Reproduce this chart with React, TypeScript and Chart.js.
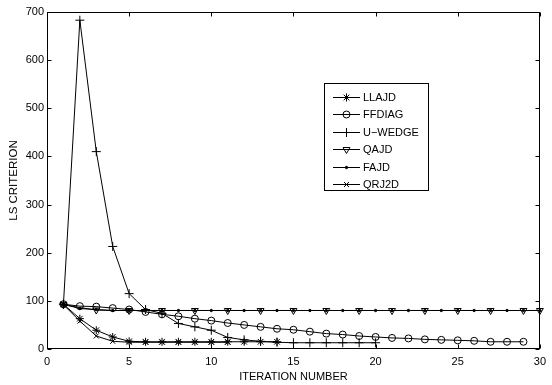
import React, { useEffect, useRef } from "react";
import { Chart, registerables } from "chart.js";
import { drawPoint } from "chart.js/helpers";

Chart.register(...registerables);

const seriesNames = ["LLAJD", "FFDIAG", "U\u2212WEDGE", "QAJD", "FAJD", "QRJ2D"];

const llajd = [93, 63, 39, 25, 16, 15, 15, 15, 15, 15, 15, 15, 15, 15];
const ffdiag = [93, 89, 88, 85, 82, 77, 72, 68, 63, 59, 54, 50, 46, 42, 40, 36, 32, 30, 27, 25, 23, 22, 20, 19, 18, 17, 15, 15, 15];
const uwedge = [93, 683, 410, 213, 115, 82, 74, 53, 46, 39, 24, 19, 16, 14, 13, 13, 13, 13, 13, 13];
const qajd = [92, 86, 81, 80, 80, 80, 80, 80, 80, 80, 80, 80, 80, 80, 80, 80, 80, 80, 80, 80, 80, 80, 80, 80, 80, 80, 80, 80, 80, 80];
const fajd = [93, 84, 82, 80, 80, 80, 80, 80, 80, 80, 80, 80, 80, 80, 80, 80, 80, 80, 80, 80, 80, 80, 80, 80, 80, 80, 80, 80, 80, 80];
const qrj2d = [92, 58, 27, 16, 14, 14, 14, 14, 14, 14, 14];

const xTicks = [0, 5, 10, 15, 20, 25, 30];
const yTicks = [0, 100, 200, 300, 400, 500, 600, 700];

const FONT = "'Liberation Sans', Arial, Helvetica, sans-serif";

const styles = [
  { pointStyle: "star", radius: 4, rotation: 0 },
  { pointStyle: "circle", radius: 3.5, rotation: 0 },
  { pointStyle: "cross", radius: 4.5, rotation: 0 },
  { pointStyle: "triangle", radius: 4, rotation: 180 },
  { pointStyle: "circle", radius: 1.2, rotation: 0, filled: true },
  { pointStyle: "crossRot", radius: 3.5, rotation: 0 },
];

const toPts = (arr: number[]) => arr.map((v, i) => ({ x: i + 1, y: v }));

const framePlugin = {
  id: "frame",
  afterDatasetsDraw(chart: any) {
    const { ctx, chartArea: a, scales } = chart;
    ctx.save();
    ctx.strokeStyle = "#000";
    ctx.lineWidth = 1;
    const L = Math.round(a.left) + 0.5;
    const R = Math.round(a.right) - 0.5;
    const T = Math.round(a.top) + 0.5;
    const B = Math.round(a.bottom) - 0.5;
    ctx.strokeRect(L, T, R - L, B - T);
    const tl = 4;
    ctx.beginPath();
    xTicks.forEach((t) => {
      const x = Math.round(scales.x.getPixelForValue(t)) + 0.5;
      ctx.moveTo(x, B);
      ctx.lineTo(x, B - tl);
      ctx.moveTo(x, T);
      ctx.lineTo(x, T + tl);
    });
    yTicks.forEach((t) => {
      const y = Math.round(scales.y.getPixelForValue(t)) + 0.5;
      ctx.moveTo(L, y);
      ctx.lineTo(L + tl, y);
      ctx.moveTo(R, y);
      ctx.lineTo(R - tl, y);
    });
    ctx.stroke();

    // legend
    const bx = 324.5, by = 83.5, bw = 104, bh = 107;
    ctx.fillStyle = "#fff";
    ctx.fillRect(bx, by, bw, bh);
    ctx.strokeRect(bx, by, bw, bh);
    ctx.font = "11px " + FONT;
    ctx.textBaseline = "middle";
    ctx.textAlign = "left";
    seriesNames.forEach((name, i) => {
      const y = Math.round(97 + i * 17.4) + 0.5;
      ctx.strokeStyle = "#000";
      ctx.beginPath();
      ctx.moveTo(333, y);
      ctx.lineTo(360, y);
      ctx.stroke();
      const s: any = styles[i];
      ctx.fillStyle = s.filled ? "#000" : "rgba(0,0,0,0)";
      drawPoint(ctx, { pointStyle: s.pointStyle, radius: s.radius, rotation: s.rotation, borderWidth: 1 } as any, 346.5, y);
      ctx.fillStyle = "#000";
      ctx.fillText(name, 363, y + 0.5);
    });
    ctx.restore();
  },
};

export default function App() {
  const ref = useRef<HTMLCanvasElement>(null);
  useEffect(() => {
    document.body.style.margin = "0";
    const data = [llajd, ffdiag, uwedge, qajd, fajd, qrj2d];
    const datasets = data.map((arr, i) => {
      const s: any = styles[i];
      let radius: any = s.radius;
      if (i === 3) {
        radius = arr.map((_, j) => ((j + 1) % 2 === 1 || j + 1 === 30 ? s.radius : 0));
      }
      return {
        label: seriesNames[i],
        data: toPts(arr),
        borderColor: "#000",
        backgroundColor: s.filled ? "#000" : "rgba(0,0,0,0)",
        borderWidth: 1,
        pointStyle: s.pointStyle,
        pointRadius: radius,
        pointRotation: s.rotation,
        pointBorderColor: "#000",
        pointBackgroundColor: s.filled ? "#000" : "rgba(0,0,0,0)",
        pointBorderWidth: 1,
        tension: 0,
        fill: false,
        clip: false as any,
      };
    });
    const chart = new Chart(ref.current!, {
      type: "line",
      data: { datasets },
      plugins: [framePlugin],
      options: {
        animation: false,
        responsive: false,
        devicePixelRatio: 1,
        layout: { padding: { top: 12, right: 6, left: 0, bottom: 0 } },
        plugins: { legend: { display: false }, tooltip: { enabled: false } },
        scales: {
          x: {
            type: "linear",
            min: 0,
            max: 30,
            afterBuildTicks: (sc: any) => {
              sc.ticks = xTicks.map((v) => ({ value: v }));
            },
            afterFit: (sc: any) => {
              sc.height = 36;
            },
            ticks: { color: "#000", font: { family: FONT, size: 11 }, padding: 6, maxRotation: 0 },
            grid: { display: false, drawTicks: false },
            border: { display: false },
            title: {
              display: true,
              text: "ITERATION NUMBER",
              color: "#000",
              font: { family: FONT, size: 11 },
              padding: { top: 0, bottom: 1 },
            },
          },
          y: {
            type: "linear",
            min: 0,
            max: 700,
            afterBuildTicks: (sc: any) => {
              sc.ticks = yTicks.map((v) => ({ value: v }));
            },
            afterFit: (sc: any) => {
              sc.width = 47;
            },
            ticks: { color: "#000", font: { family: FONT, size: 11 }, padding: 3 },
            grid: { display: false, drawTicks: false },
            border: { display: false },
            title: {
              display: true,
              text: "LS CRITERION",
              color: "#000",
              font: { family: FONT, size: 11.5 },
              padding: { top: 7, bottom: 0 },
            },
          },
        },
      },
    });
    return () => chart.destroy();
  }, []);
  return (
    <div style={{ width: 552, height: 385, background: "#fff" }}>
      <canvas ref={ref} width={552} height={385} style={{ display: "block" }} />
    </div>
  );
}
